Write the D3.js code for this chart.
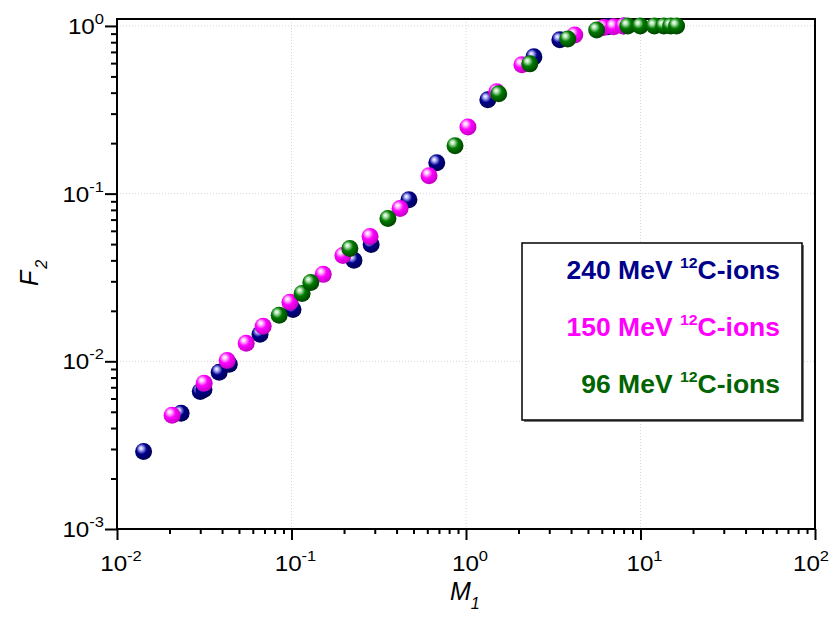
<!DOCTYPE html>
<html>
<head>
<meta charset="utf-8">
<script src="https://cdn.jsdelivr.net/npm/d3@7"></script>
<style>
  body { margin: 0; background: #fff; }
  text { font-family: "Liberation Sans", Arial, sans-serif; }
</style>
</head>
<body>
<div class="chart"></div>
<script>
// 240 MeV 12C-ions
var m1_240 = [0.0142, 0.0233, 0.030, 0.0315, 0.0385, 0.044, 0.066, 0.102, 0.228, 0.286, 0.471, 0.68, 1.334, 2.45, 3.45, 6.5, 8.0];
var f2_240 = [0.0029, 0.0049, 0.0066, 0.0068, 0.0086, 0.0096, 0.0145, 0.0204, 0.040, 0.0497, 0.092, 0.153, 0.363, 0.654, 0.826, 0.99, 1.0];
// 150 MeV 12C-ions
var m1_150 = [0.0207, 0.0316, 0.0428, 0.055, 0.0688, 0.098, 0.152, 0.197, 0.282, 0.419, 0.614, 1.026, 1.50, 2.09, 4.2, 6.15, 7.03, 8.0];
var f2_150 = [0.00477, 0.0074, 0.0101, 0.0128, 0.0162, 0.0225, 0.033, 0.0428, 0.0555, 0.0814, 0.128, 0.25, 0.405, 0.586, 0.884, 0.98, 0.99, 1.0];
// 96 MeV 12C-ions
var m1_96 = [0.085, 0.115, 0.129, 0.216, 0.357, 0.865, 1.54, 2.32, 3.83, 5.61, 8.45, 9.97, 12.0, 13.6, 14.9, 16.1];
var f2_96 = [0.0188, 0.0254, 0.0295, 0.047, 0.071, 0.193, 0.394, 0.594, 0.837, 0.947, 1.0, 1.0, 1.0, 1.0, 1.0, 1.0];

var seriesNames = ["240 MeV", "150 MeV", "96 MeV"];
var xMajors = [1e-2, 1e-1, 1e0, 1e1, 1e2];
var xExps = ["-2", "-1", "0", "1", "2"];
var yMajors = [1e-3, 1e-2, 1e-1, 1e0];
var yExps = ["-3", "-2", "-1", "0"];

var colors = [
  { base: "#00008b", light: "#b8b8ff", dark: "#000050", text: "#00008b" },
  { base: "#ff00ff", light: "#ffc8ff", dark: "#c000c0", text: "#ff00ff" },
  { base: "#007a00", light: "#b8e8b8", dark: "#004000", text: "#006400" }
];

var W = 834, H = 624;
var pLeft = 117, pRight = 815, pTop = 19, pBottom = 529;

var svg = d3.select(".chart").append("svg")
  .attr("width", W).attr("height", H);

var x = d3.scaleLog().domain([1e-2, 1e2]).range([pLeft, pRight]);
var y = d3.scaleLog().domain([1e-3, 1.1]).range([pBottom, pTop]);

// gradients for the shaded balls
var defs = svg.append("defs");
colors.forEach(function (c, i) {
  var g = defs.append("radialGradient").attr("id", "ball" + i)
    .attr("cx", "42%").attr("cy", "40%").attr("r", "62%")
    .attr("fx", "34%").attr("fy", "30%");
  g.append("stop").attr("offset", "0%").attr("stop-color", "#ffffff");
  g.append("stop").attr("offset", "18%").attr("stop-color", c.light);
  g.append("stop").attr("offset", "50%").attr("stop-color", c.base);
  g.append("stop").attr("offset", "100%").attr("stop-color", c.dark);
});

// grid
var grid = svg.append("g").attr("stroke", "#d6d6d6").attr("stroke-width", 1)
  .attr("stroke-dasharray", "1,2");
grid.selectAll(".gx").data(xMajors.slice(1, -1)).enter().append("line")
  .attr("x1", d => x(d)).attr("x2", d => x(d)).attr("y1", pTop).attr("y2", pBottom);
grid.selectAll(".gy").data(yMajors.slice(1)).enter().append("line")
  .attr("y1", d => y(d)).attr("y2", d => y(d)).attr("x1", pLeft).attr("x2", pRight);

// minor ticks from the log scale
var xMinors = x.ticks().filter(d => xMajors.indexOf(d) < 0);
var yMinors = y.ticks().filter(d => yMajors.every(m => Math.abs(m - d) > 1e-12) && d <= 1);

var xAxisMinor = svg.append("g").attr("transform", `translate(0, ${pBottom})`)
  .call(d3.axisBottom(x).tickValues(xMinors).tickSize(5).tickFormat(""));
var xAxis = svg.append("g").attr("transform", `translate(0, ${pBottom})`)
  .call(d3.axisBottom(x).tickValues(xMajors).tickSize(11).tickFormat(""));
var yAxisMinor = svg.append("g").attr("transform", `translate(${pLeft}, 0)`)
  .call(d3.axisLeft(y).tickValues(yMinors).tickSize(6).tickFormat(""));
var yAxis = svg.append("g").attr("transform", `translate(${pLeft}, 0)`)
  .call(d3.axisLeft(y).tickValues(yMajors).tickSize(12).tickFormat(""));

[xAxisMinor, xAxis, yAxisMinor, yAxis].forEach(function (a) {
  a.select(".domain").remove();
  a.selectAll(".tick line").attr("stroke", "#000").attr("stroke-width", 2);
});

// frame
svg.append("rect").attr("x", pLeft).attr("y", pTop)
  .attr("width", pRight - pLeft).attr("height", pBottom - pTop)
  .attr("fill", "none").attr("stroke", "#000").attr("stroke-width", 2);

// tick labels with superscript powers
function powLabel(g, exp, anchor) {
  var t = g.append("text").attr("text-anchor", anchor).attr("font-size", 22).attr("fill", "#000");
  t.append("tspan").text("10");
  t.append("tspan").attr("dy", -10).attr("font-size", 15).text(exp);
  return t;
}
xMajors.forEach(function (d, i) {
  var px = Math.min(x(d) + 4, 811);
  var g = svg.append("g").attr("transform", `translate(${px}, 571) scale(1.1,1)`);
  powLabel(g, xExps[i], "middle");
});
yMajors.forEach(function (d, i) {
  var g = svg.append("g").attr("transform", `translate(104, ${y(d) + 8}) scale(1.1,1)`);
  powLabel(g, yExps[i], "end");
});

// axis titles
var xt = svg.append("text").attr("x", 450).attr("y", 600).attr("font-size", 25)
  .attr("font-style", "italic");
xt.append("tspan").text("M");
xt.append("tspan").attr("dy", 9).attr("font-size", 16).text("1");

var yt = svg.append("text").attr("transform", "translate(38, 286) rotate(-90)")
  .attr("font-size", 25).attr("font-style", "italic");
yt.append("tspan").text("F");
yt.append("tspan").attr("dx", 2).attr("dy", 9).attr("font-size", 16).text("2");

// data points
var series = [
  d3.zip(m1_240, f2_240),
  d3.zip(m1_150, f2_150),
  d3.zip(m1_96, f2_96)
];
series.forEach(function (pts, i) {
  svg.append("g").selectAll("circle").data(pts).enter().append("circle")
    .attr("cx", d => x(d[0])).attr("cy", d => y(d[1]))
    .attr("r", 8.5).attr("fill", `url(#ball${i})`);
});

// legend
var lg = svg.append("g");
lg.append("rect").attr("x", 524).attr("y", 245).attr("width", 280).attr("height", 177)
  .attr("fill", "#777");
lg.append("rect").attr("x", 522).attr("y", 243).attr("width", 280).attr("height", 177)
  .attr("fill", "#fff").attr("stroke", "#000").attr("stroke-width", 1.5);
seriesNames.forEach(function (name, i) {
  var g = lg.append("g").attr("transform", `translate(780, ${279 + i * 57}) scale(1.06,1)`);
  var t = g.append("text").attr("text-anchor", "end").attr("font-size", 25)
    .attr("font-weight", "bold").attr("fill", colors[i].text);
  t.append("tspan").text(name + " ");
  t.append("tspan").attr("dy", -11).attr("font-size", 15).text("12");
  t.append("tspan").attr("dy", 11).text("C-ions");
});
</script>
</body>
</html>
